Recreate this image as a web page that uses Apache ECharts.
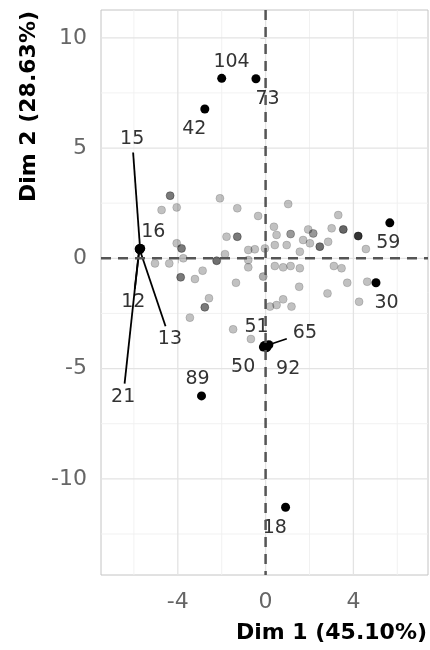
<!DOCTYPE html>
<html><head><meta charset="utf-8">
<script src="https://cdn.jsdelivr.net/npm/echarts@6/dist/echarts.min.js"></script>
<style>html,body{margin:0;padding:0;background:#fff}#c{width:430px;height:650px}</style>
</head><body><div id="c"></div>
<script>
// ---- axis ticks / grid values ----
const xTicks = [-4, 0, 4];
const xMinorGrid = [-6, -2, 2, 6];
const yTicks = [-10, -5, 0, 5, 10];
const yMinorGrid = [-12.5, -7.5, -2.5, 2.5, 7.5];
const xTitle = 'Dim 1 (45.10%)';
const yTitle = 'Dim 2 (28.63%)';

// ---- unlabelled individuals (coords + cos2 used as alpha) ----
const cloudX = [-4.35,-4.74,-4.05,-2.08,-1.29,-0.34,-1.78,-1.29,-4.05,-3.83,-3.75,-5.04,-4.39,-2.23,-1.85,-0.79,-0.49,-0.79,-0.79,-3.87,-3.22,-2.87,-1.35,-2.58,-2.77,-3.45,-1.48,
  1.03,3.31,3.54,0.38,0.50,1.14,1.94,2.17,3.01,1.71,2.02,2.47,2.85,4.57,0.96,0.42,-0.03,1.56,0.42,0.80,1.14,1.56,3.11,3.46,-0.11,1.53,3.72,4.63,2.82,4.26,0.50,0.80,1.18,0.20,-0.67,4.22];
const cloudY = [2.84,2.19,2.31,2.72,2.27,1.92,0.98,0.98,0.68,0.45,0.00,-0.23,-0.23,-0.11,0.19,0.38,0.41,-0.08,-0.41,-0.86,-0.94,-0.56,-1.11,-1.81,-2.22,-2.69,-3.22,
  2.46,1.96,1.31,1.43,1.06,1.10,1.31,1.13,1.36,0.83,0.68,0.53,0.75,0.42,0.60,0.60,0.45,0.30,-0.35,-0.41,-0.35,-0.45,-0.35,-0.45,-0.83,-1.29,-1.11,-1.06,-1.59,-1.97,-2.12,-1.86,-2.19,-2.19,-3.66,1.01];
const cloudCos2 = [0.65,0.3,0.3,0.3,0.3,0.3,0.3,0.65,0.3,0.65,0.3,0.3,0.3,0.7,0.3,0.3,0.3,0.3,0.3,0.65,0.3,0.3,0.3,0.3,0.65,0.3,0.3,
  0.3,0.3,0.75,0.3,0.3,0.5,0.3,0.5,0.3,0.3,0.3,0.7,0.3,0.3,0.3,0.3,0.3,0.3,0.3,0.3,0.3,0.3,0.3,0.3,0.4,0.3,0.3,0.3,0.3,0.3,0.3,0.3,0.3,0.3,0.3,1.0];

// ---- labelled individuals ----
const topIds    = ['104','73','42','15','16','12','13','21','89','51','65','50','92','18','59','30'];
const topX      = [-2.00,-0.44,-2.77,-5.72,-5.69,-5.75,-5.73,-5.76,-2.92,-0.05,0.15,-0.10,0.05,0.91,5.66,5.03];
const topY      = [8.16,8.14,6.77,0.45,0.45,0.40,0.38,0.43,-6.24,-3.95,-3.92,-4.02,-4.05,-11.29,1.61,-1.11];
const topLabelX = [-1.55,0.09,-3.25,-6.08,-5.12,-6.03,-4.36,-6.49,-3.10,-0.41,1.79,-1.02,1.03,0.42,5.59,5.51];
const topLabelY = [8.91,7.22,5.85,5.39,1.21,-1.97,-3.67,-6.27,-5.49,-3.10,-3.37,-4.91,-5.03,-12.24,0.68,-2.04];

const FONT = '"DejaVu Sans", sans-serif';
const LABEL_SIZE = 19;

const chart = echarts.init(document.getElementById('c'), null, {renderer: 'canvas'});

// grid rows: [axis(0=x,1=y), value, major(1)/minor(0)]
const gridRows = [].concat(
  xMinorGrid.map(v => [0, v, 0]),
  yMinorGrid.map(v => [1, v, 0]),
  xTicks.map(v => [0, v, 1]),
  yTicks.map(v => [1, v, 1])
);

function gridRender(params, api) {
  const cs = params.coordSys;
  const axis = api.value(0), v = api.value(1), major = api.value(2);
  const style = {stroke: major ? '#e3e3e3' : '#efefef', lineWidth: major ? 1.3 : 0.9};
  if (axis === 0) {
    const px = api.coord([v, 0])[0];
    return {type: 'line', shape: {x1: px, y1: cs.y, x2: px, y2: cs.y + cs.height}, style: style};
  }
  const py = api.coord([0, v])[1];
  return {type: 'line', shape: {x1: cs.x, y1: py, x2: cs.x + cs.width, y2: py}, style: style};
}

function zeroRender(params, api) {
  const cs = params.coordSys;
  const axis = api.value(0);
  const style = {stroke: '#555', lineWidth: 2.5, lineDash: [10, 7]};
  if (axis === 0) {
    const px = api.coord([0, 0])[0];
    return {type: 'line', shape: {x1: px, y1: cs.y, x2: px, y2: cs.y + cs.height}, style: style};
  }
  const py = api.coord([0, 0])[1];
  return {type: 'line', shape: {x1: cs.x, y1: py, x2: cs.x + cs.width, y2: py}, style: style};
}

chart.setOption({
  animation: false,
  backgroundColor: '#fff',
  grid: {left: 101, right: 2, top: 10, bottom: 75, show: true, borderColor: '#c4c4c4', borderWidth: 1, backgroundColor: 'transparent'},
  xAxis: {
    type: 'value', min: -7.5, max: 7.4,
    axisLine: {show: false},
    axisTick: {show: true, customValues: xTicks, length: 5, lineStyle: {color: '#b5b5b5', width: 1}},
    axisLabel: {customValues: xTicks, fontSize: 22, fontFamily: FONT, color: '#666', margin: 16},
    splitLine: {show: false}
  },
  yAxis: {
    type: 'value', min: -14.36, max: 11.26,
    axisLine: {show: false},
    axisTick: {show: true, customValues: yTicks, length: 5, lineStyle: {color: '#b5b5b5', width: 1}},
    axisLabel: {customValues: yTicks, fontSize: 22, fontFamily: FONT, color: '#666', margin: 14},
    splitLine: {show: false}
  },
  graphic: [
    {type: 'text', x: 427, y: 633, z: 100,
     style: {text: xTitle, font: 'bold 22px ' + FONT, fill: '#000', align: 'right', verticalAlign: 'middle', textAlign: 'right', textVerticalAlign: 'middle'}},
    {type: 'text', x: 29, y: 11, rotation: Math.PI / 2, z: 100,
     style: {text: yTitle, font: 'bold 22px ' + FONT, fill: '#000', align: 'right', verticalAlign: 'middle', textAlign: 'right', textVerticalAlign: 'middle'}}
  ],
  series: [
    {type: 'custom', z: 1, silent: true, data: gridRows, renderItem: gridRender,
     encode: {x: -1, y: -1}, clip: true},
    {type: 'scatter', z: 2, silent: true, symbolSize: 8,
     data: cloudX.map((x, i) => ({value: [x, cloudY[i]], itemStyle: {
       color: 'rgba(0,0,0,' + cloudCos2[i] + ')', borderColor: 'rgba(0,0,0,' + (cloudCos2[i] * 0.6) + ')', borderWidth: 1}}))},
    {type: 'scatter', z: 3, silent: true, symbolSize: 9,
     itemStyle: {color: '#000', opacity: 1},
     data: topX.map((x, i) => [x, topY[i]])},
    {type: 'custom', z: 4, silent: true,
     data: topIds.map((id, i) => [topX[i], topY[i], topLabelX[i], topLabelY[i]]),
     encode: {x: [0, 2], y: [1, 3]},
     renderItem: function (params, api) {
       const i = params.dataIndex;
       const p = api.coord([api.value(0), api.value(1)]);
       const l = api.coord([api.value(2), api.value(3)]);
       const id = topIds[i];
       const w = id.length * 0.636 * LABEL_SIZE;
       const hw = w / 2 + 6, hh = 13;
       const children = [];
       const dx = p[0] - l[0], dy = p[1] - l[1];
       const d = Math.hypot(dx, dy);
       if (d > 35) {
         const t = Math.min(hw / Math.max(Math.abs(dx), 1e-9), hh / Math.max(Math.abs(dy), 1e-9));
         if (t < 1) {
           children.push({type: 'line', shape: {x1: l[0] + dx * t, y1: l[1] + dy * t, x2: p[0], y2: p[1]},
             style: {stroke: '#000', lineWidth: 1.8}});
         }
       }
       children.push({type: 'text', style: {text: id, x: l[0], y: l[1], align: 'center', verticalAlign: 'middle',
         font: LABEL_SIZE + 'px ' + FONT, fill: '#333'}});
       return {type: 'group', children: children};
     }},
    {type: 'custom', z: 5, silent: true, data: [[0], [1]], renderItem: zeroRender, encode: {x: -1, y: -1}}
  ]
});
</script>
</body></html>
